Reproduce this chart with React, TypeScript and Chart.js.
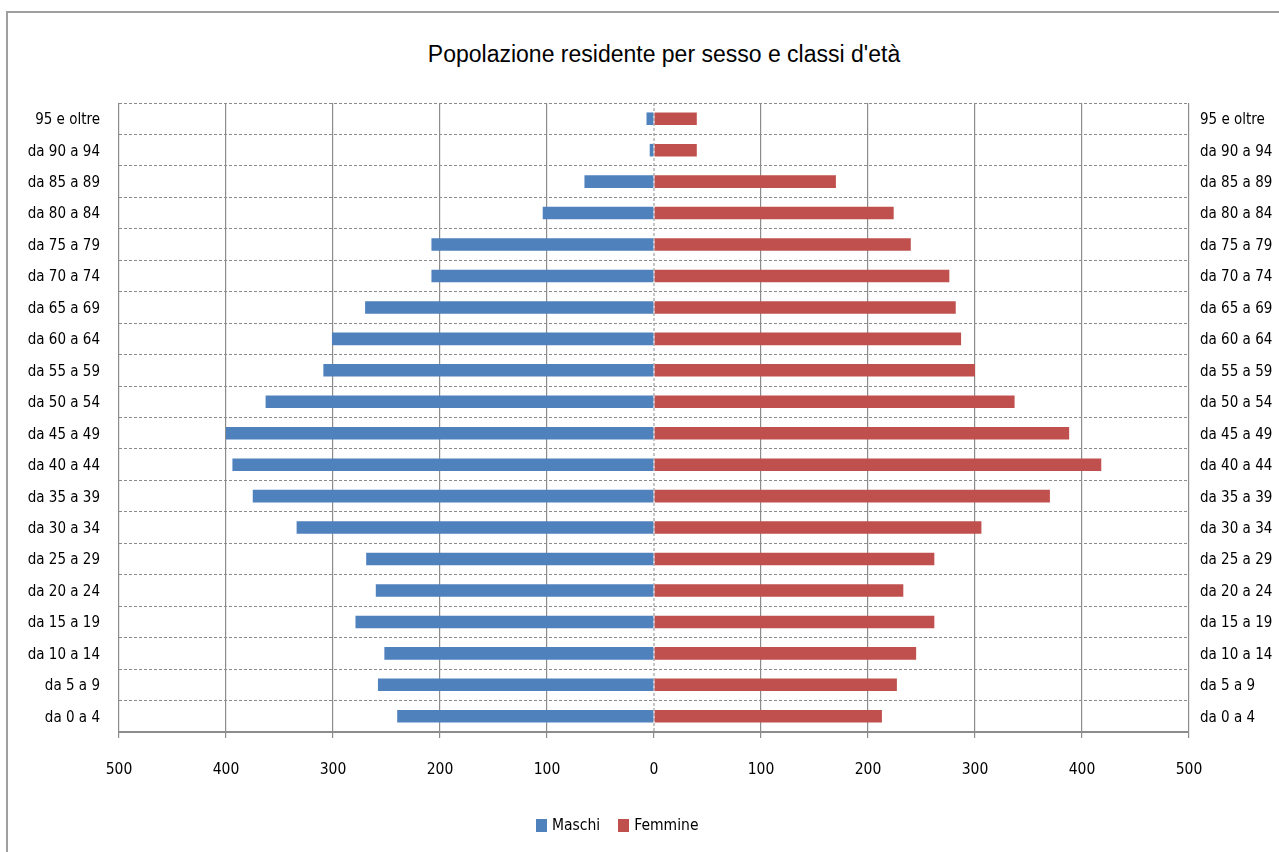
import React, { useEffect, useRef } from "react";
import { Chart, registerables } from "chart.js";

Chart.register(...registerables);

const ageClasses = [
  "da 0 a 4",
  "da 5 a 9",
  "da 10 a 14",
  "da 15 a 19",
  "da 20 a 24",
  "da 25 a 29",
  "da 30 a 34",
  "da 35 a 39",
  "da 40 a 44",
  "da 45 a 49",
  "da 50 a 54",
  "da 55 a 59",
  "da 60 a 64",
  "da 65 a 69",
  "da 70 a 74",
  "da 75 a 79",
  "da 80 a 84",
  "da 85 a 89",
  "da 90 a 94",
  "95 e oltre",
];

const maschi = [240, 258, 252, 279, 260, 269, 334, 375, 394, 400, 363, 309, 301, 270, 208, 208, 104, 65, 4, 7];
const femmine = [213, 227, 245, 262, 233, 262, 306, 370, 418, 388, 337, 300, 287, 282, 276, 240, 224, 170, 40, 40];

const seriesNames = ["Maschi", "Femmine"];
const seriesColors = ["#4F81BD", "#C0504D"];

const titleText = "Popolazione residente per sesso e classi d'età";

const axisMin = -500;
const axisMax = 500;
const axisStep = 100;

const labelFont = "'DejaVu Sans Condensed', 'Liberation Sans', sans-serif";
const gridColor = "#8c8c8c";

const zeroLinePlugin = {
  id: "zeroLine",
  beforeDatasetsDraw(chart: any) {
    const { ctx, chartArea, scales } = chart;
    const x = scales.x.getPixelForValue(0);
    ctx.save();
    ctx.strokeStyle = gridColor;
    ctx.lineWidth = 1;
    ctx.setLineDash([3, 2]);
    ctx.beginPath();
    ctx.moveTo(x, chartArea.top);
    ctx.lineTo(x, chartArea.bottom);
    ctx.stroke();
    ctx.restore();
  },
};

export default function App() {
  const canvasRef = useRef<HTMLCanvasElement | null>(null);

  useEffect(() => {
    if (!canvasRef.current) return;
    const chart = new Chart(canvasRef.current, {
      type: "bar",
      data: {
        labels: ageClasses,
        datasets: [
          {
            label: seriesNames[0],
            data: maschi.map((v) => -v),
            backgroundColor: seriesColors[0],
            borderWidth: 0,
            xAxisID: "x",
            yAxisID: "y",
            categoryPercentage: 1,
            barPercentage: 0.4,
          },
          {
            label: seriesNames[1],
            data: femmine,
            backgroundColor: seriesColors[1],
            borderWidth: 0,
            xAxisID: "x",
            yAxisID: "y",
            categoryPercentage: 1,
            barPercentage: 0.4,
          },
        ],
      },
      options: {
        indexAxis: "y",
        animation: false,
        responsive: true,
        maintainAspectRatio: false,
        layout: { padding: { top: 103, bottom: 60, left: 0, right: 0 } },
        plugins: {
          legend: { display: false },
          title: { display: false },
          tooltip: { enabled: false },
        },
        scales: {
          x: {
            type: "linear",
            position: "bottom",
            stacked: true,
            min: axisMin,
            max: axisMax,
            ticks: {
              stepSize: axisStep,
              color: "#000",
              font: { family: labelFont, size: 15.5 },
              padding: 23,
              callback: (v: any) => String(Math.abs(Number(v))),
            },
            grid: {
              color: (ctx: any) => (ctx.tick && ctx.tick.value === 0 ? "rgba(0,0,0,0)" : gridColor),
              lineWidth: 1.2,
              drawTicks: true,
              tickLength: 6,
              tickColor: gridColor,
            },
            border: { display: true, color: gridColor, width: 2 },
            afterFit: (scale: any) => {
              scale.height = 60;
            },
          },
          y: {
            type: "category",
            position: "left",
            stacked: true,
            reverse: true,
            offset: true,
            ticks: {
              color: "#000",
              font: { family: labelFont, size: 15 },
              padding: 19,
              labelOffset: 1.5,
            },
            grid: {
              color: gridColor,
              lineWidth: 1,
              offset: true,
              drawTicks: false,
            },
            border: { display: false, dash: [3, 2] },
            afterFit: (scale: any) => {
              scale.width = 119;
            },
          },
          y2: {
            type: "category",
            position: "right",
            labels: ageClasses,
            reverse: true,
            offset: true,
            ticks: {
              color: "#000",
              font: { family: labelFont, size: 15 },
              padding: 11,
              labelOffset: 1.5,
            },
            grid: { display: false, drawTicks: false },
            border: { display: false },
            afterFit: (scale: any) => {
              scale.width = 90;
            },
          },
        },
      },
      plugins: [zeroLinePlugin],
    });
    return () => chart.destroy();
  }, []);

  return (
    <div
      style={{
        position: "absolute",
        left: 0,
        top: 0,
        width: 1279,
        height: 852,
        overflow: "hidden",
        background: "#fff",
      }}
    >
      <div
        style={{
          position: "absolute",
          left: 6,
          top: 11,
          width: 1320,
          height: 900,
          border: "2px solid #a0a0a0",
          boxSizing: "border-box",
        }}
      />
      <div
        style={{
          position: "absolute",
          left: 664,
          top: 42,
          transform: "translateX(-50%)",
          whiteSpace: "nowrap",
          fontFamily: "'Liberation Sans', Arial, sans-serif",
          fontSize: 23,
          lineHeight: "24px",
          color: "#000",
        }}
      >
        {titleText}
      </div>
      <div style={{ position: "absolute", left: 0, top: 0, width: 1279, height: 852 }}>
        <canvas ref={canvasRef} />
      </div>
      <div
        style={{
          position: "absolute",
          left: 536,
          top: 814,
          display: "flex",
          alignItems: "center",
          fontFamily: labelFont,
          fontSize: 15.5,
          lineHeight: "22px",
          color: "#000",
        }}
      >
        {seriesNames.map((name, i) => (
          <div key={name} style={{ display: "flex", alignItems: "center", marginRight: i === 0 ? 18 : 0 }}>
            <span
              style={{
                display: "inline-block",
                width: 11,
                height: 13,
                background: seriesColors[i],
                marginRight: 5,
              }}
            />
            <span>{name}</span>
          </div>
        ))}
      </div>
    </div>
  );
}
